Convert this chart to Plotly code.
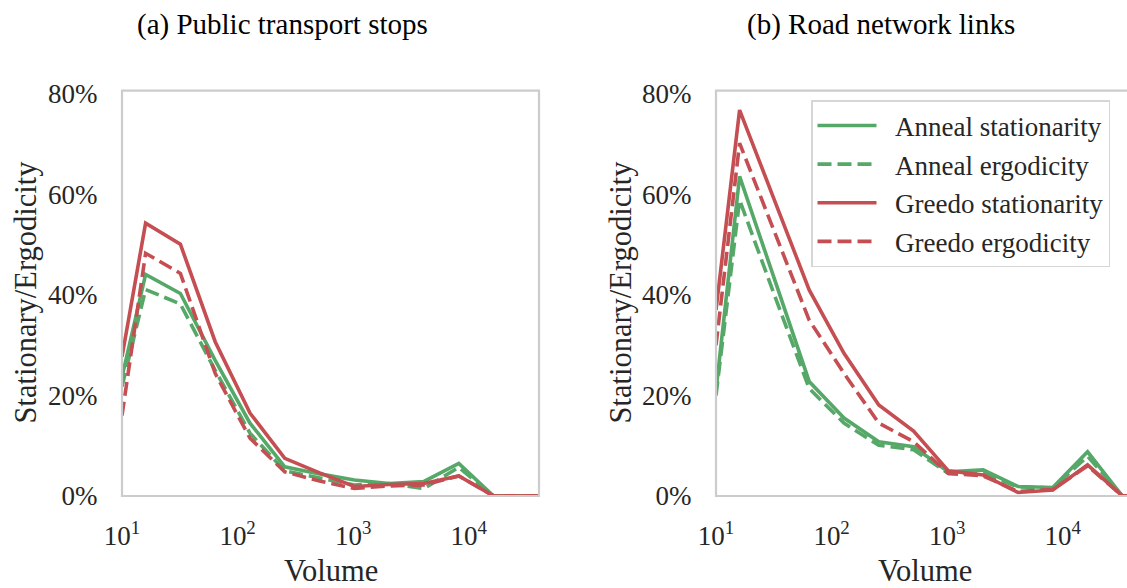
import plotly.graph_objects as go

# ---------------- data ----------------
volume = [10, 16, 32, 64, 128, 256, 512, 1024, 2048, 4096, 8192, 16384, 32768, 65536]

# (a) Public transport stops
a_anneal_stat = [0.237, 0.441, 0.403, 0.270, 0.145, 0.058, 0.044, 0.032, 0.025, 0.029, 0.065, 0.0, 0.0, 0.0]
a_anneal_ergo = [0.218, 0.411, 0.382, 0.250, 0.125, 0.050, 0.036, 0.022, 0.025, 0.015, 0.057, 0.0, 0.0, 0.0]
a_greedo_stat = [0.277, 0.543, 0.501, 0.307, 0.165, 0.075, 0.046, 0.019, 0.023, 0.025, 0.040, 0.0, 0.0, 0.0]
a_greedo_ergo = [0.160, 0.483, 0.443, 0.244, 0.115, 0.048, 0.030, 0.015, 0.020, 0.022, 0.040, 0.0, 0.0, 0.0]

# (b) Road network links
b_anneal_stat = [0.210, 0.636, 0.432, 0.228, 0.155, 0.108, 0.098, 0.048, 0.052, 0.019, 0.017, 0.088, 0.0, 0.0]
b_anneal_ergo = [0.200, 0.589, 0.400, 0.214, 0.145, 0.101, 0.092, 0.045, 0.045, 0.018, 0.016, 0.079, 0.0, 0.0]
b_greedo_stat = [0.370, 0.768, 0.589, 0.410, 0.284, 0.181, 0.129, 0.050, 0.042, 0.007, 0.012, 0.062, 0.0, 0.0]
b_greedo_ergo = [0.300, 0.702, 0.526, 0.350, 0.244, 0.145, 0.108, 0.045, 0.040, 0.009, 0.013, 0.060, 0.0, 0.0]

series_names = ["Anneal stationarity", "Anneal ergodicity", "Greedo stationarity", "Greedo ergodicity"]
panel_titles = ["(a) Public transport stops", "(b) Road network links"]
x_tickvals = [10, 100, 1000, 10000]
x_ticktext = ["10<sup>1</sup>", "10<sup>2</sup>", "10<sup>3</sup>", "10<sup>4</sup>"]
y_tickvals = [0, 0.2, 0.4, 0.6, 0.8]
x_title = "Volume"
y_title = "Stationary/Ergodicity"

# ---------------- style ----------------
GREEN = "#55A868"
RED = "#C44E52"
FONT = "Liberation Serif"
TXT = "#262626"
SPINE = "#cccccc"
W, H = 1127, 588
LW = 3.6
DASH = "14px,6px"
NB = "\u00a0\u00a0"

styles = [(GREEN, "solid"), (GREEN, DASH), (RED, "solid"), (RED, DASH)]

fig = go.Figure()

panels = [
    ([a_anneal_stat, a_anneal_ergo, a_greedo_stat, a_greedo_ergo], "x", "y", False),
    ([b_anneal_stat, b_anneal_ergo, b_greedo_stat, b_greedo_ergo], "x2", "y2", True),
]
for data, xa, ya, show in panels:
    for i, (vals, name) in enumerate(zip(data, series_names)):
        col, dash = styles[i]
        fig.add_trace(go.Scatter(
            x=volume, y=vals, mode="lines", name=NB + name,
            line=dict(color=col, width=LW, dash=dash),
            xaxis=xa, yaxis=ya, showlegend=show, legendgroup=name,
        ))

# pixel geometry
def px(x):
    return x / W

def py(y):
    return 1 - y / H

L0, L1 = 122, 539
R0, R1 = 716, 1127
TOP, BOT = 90.7, 496
dec = 115.6
y_top = (BOT - TOP) / 502.5

xcommon = dict(type="log", showgrid=False, zeroline=False, showline=False, automargin=False,
               tickvals=x_tickvals, ticktext=x_ticktext,
               ticks="outside", ticklen=16, tickcolor="rgba(0,0,0,0)",
               tickfont=dict(family=FONT, size=27, color=TXT))
ycommon = dict(showgrid=False, zeroline=False, showline=False, automargin=False, range=[0, y_top],
               tickvals=y_tickvals, tickformat=".0%",
               ticks="outside", ticklen=18, tickcolor="rgba(0,0,0,0)",
               tickfont=dict(family=FONT, size=27, color=TXT),
               domain=[py(BOT), py(TOP)])

fig.update_layout(
    template="none",
    width=W, height=H,
    margin=dict(l=0, r=0, t=0, b=0, pad=0, autoexpand=False),
    paper_bgcolor="white", plot_bgcolor="white",
    font=dict(family=FONT, color=TXT),
    hovermode=False,
    xaxis=dict(xcommon, domain=[px(L0), px(L1)], range=[1, 1 + (L1 - L0) / dec], anchor="y"),
    yaxis=dict(ycommon, anchor="x"),
    xaxis2=dict(xcommon, domain=[px(R0), px(R1)], range=[1, 1 + (R1 - R0) / dec], anchor="y2"),
    yaxis2=dict(ycommon, anchor="x2"),
    legend=dict(
        x=px(811), y=py(100), xanchor="left", yanchor="top",
        font=dict(family=FONT, size=27, color=TXT),
        bgcolor="white", bordercolor="#d6d6d6", borderwidth=1.5,
        traceorder="grouped", tracegroupgap=0.5, itemwidth=59,
    ),
    showlegend=True,
)

# frames (spines)
for x0, x1 in [(L0, L1), (R0, R1 + 8)]:
    fig.add_shape(type="rect", xref="paper", yref="paper",
                  x0=px(x0), x1=px(x1), y0=py(BOT), y1=py(TOP),
                  line=dict(color=SPINE, width=2.2), layer="above")

# titles and axis labels
for cx, t in [(282, panel_titles[0]), (881, panel_titles[1])]:
    fig.add_annotation(text=t, x=px(cx), y=py(24), xref="paper", yref="paper",
                       showarrow=False, xanchor="center", yanchor="middle",
                       font=dict(family=FONT, size=29, color="black"))
for cx in [331, 925]:
    fig.add_annotation(text=x_title, x=px(cx), y=py(571), xref="paper", yref="paper",
                       showarrow=False, xanchor="center", yanchor="middle",
                       font=dict(family=FONT, size=30.5, color=TXT))
for cx in [25.5, 620.5]:
    fig.add_annotation(text=y_title, x=px(cx), y=py(292), xref="paper", yref="paper",
                       showarrow=False, xanchor="center", yanchor="middle", textangle=-90,
                       font=dict(family=FONT, size=30.5, color=TXT))

fig.write_html("out.html", config={"displayModeBar": False, "staticPlot": True},
               post_script="document.body.style.margin='0px';document.body.style.overflow='hidden';")
